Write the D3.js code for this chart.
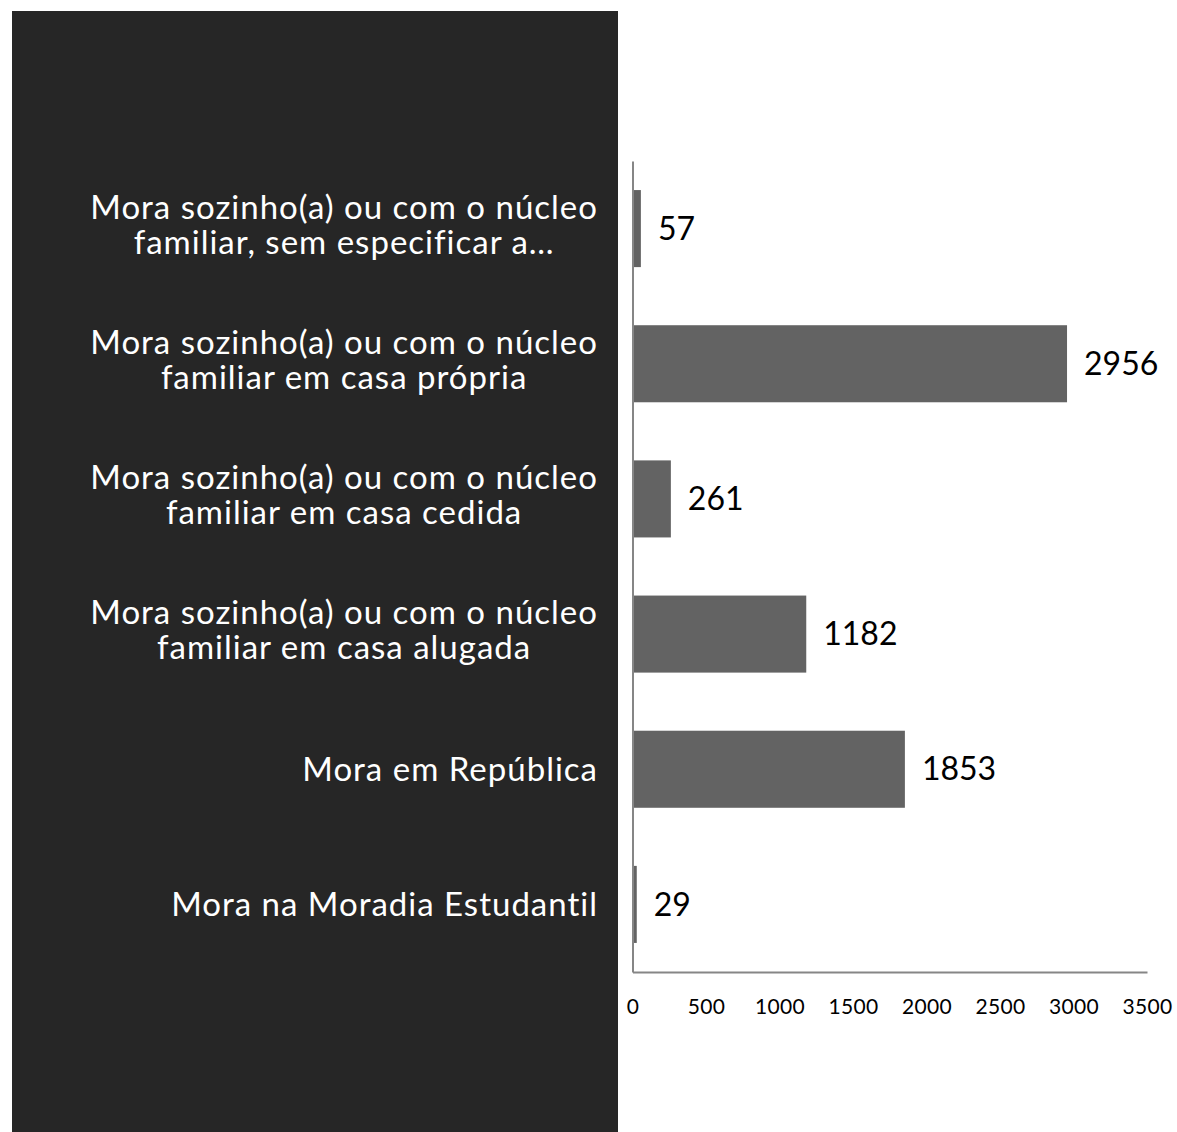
<!DOCTYPE html>
<html>
<head>
<meta charset="utf-8">
<script src="https://cdn.jsdelivr.net/npm/d3@7"></script>
<style>
  html, body { margin: 0; padding: 0; background: #ffffff; }
  svg { display: block; }
</style>
</head>
<body>
<svg id="chart" width="1177" height="1132"></svg>
<script>
const categories = [
  "Mora sozinho(a) ou com o núcleo familiar, sem especificar a…",
  "Mora sozinho(a) ou com o núcleo familiar em casa própria",
  "Mora sozinho(a) ou com o núcleo familiar em casa cedida",
  "Mora sozinho(a) ou com o núcleo familiar em casa alugada",
  "Mora em República",
  "Mora na Moradia Estudantil"
];
const values = [57, 2956, 261, 1182, 1853, 29];
const tickValues = [0, 500, 1000, 1500, 2000, 2500, 3000, 3500];

const FONT = "Lato, 'Open Sans', sans-serif";
const svg = d3.select("#chart");

// dark label panel
svg.append("rect")
  .attr("x", 12).attr("y", 11)
  .attr("width", 606).attr("height", 1121)
  .attr("fill", "#262626");

const x = d3.scaleLinear().domain([0, 3500]).range([632.5, 1147]);
const y = d3.scaleBand().domain(categories).range([161, 972])
  .paddingInner(0.43).paddingOuter(0.215);

// bars
svg.append("g").selectAll("rect")
  .data(categories)
  .join("rect")
  .attr("x", x(0))
  .attr("y", d => y(d))
  .attr("width", (d, i) => x(values[i]) - x(0))
  .attr("height", y.bandwidth())
  .attr("fill", "#636363");

// x axis
const xAxis = d3.axisBottom(x).tickValues(tickValues).tickSize(0).tickPadding(0)
  .tickFormat(d3.format("d"));
const gx = svg.append("g").attr("transform", "translate(0,972)").call(xAxis);
gx.select(".domain").attr("stroke", "#868686").attr("stroke-width", 2);
gx.selectAll("text")
  .attr("y", 35)
  .attr("dy", "0.35em")
  .attr("fill", "#000")
  .style("font-family", FONT)
  .style("font-size", "21px")
  .style("letter-spacing", "0.3px");

// y axis line
const yAxis = d3.axisLeft(y).tickSize(0).tickFormat("");
const gy = svg.append("g").attr("transform", "translate(632.5,0)").call(yAxis);
gy.select(".domain").attr("stroke", "#868686").attr("stroke-width", 2);

// value labels
svg.append("g").selectAll("text")
  .data(categories)
  .join("text")
  .attr("x", (d, i) => x(values[i]) + 17)
  .attr("y", d => y(d) + y.bandwidth() / 2)
  .attr("dy", "0.35em")
  .attr("fill", "#000")
  .style("font-family", FONT)
  .style("font-size", "32px")
  .text((d, i) => values[i]);

// category labels with wrapping, right-aligned block, centered lines
const labelRight = 598, wrapWidth = 520, lineH = 35;
const gl = svg.append("g");
categories.forEach(cat => {
  const cy = y(cat) + y.bandwidth() / 2;
  const t = gl.append("text")
    .attr("fill", "#ffffff")
    .style("font-family", FONT)
    .style("font-size", "33px")
    .style("letter-spacing", "1px");
  const words = cat.split(" ");
  const lines = [];
  let cur = [];
  const probe = t.append("tspan");
  words.forEach(w => {
    const test = cur.concat([w]).join(" ");
    probe.text(test);
    if (probe.node().getComputedTextLength() > wrapWidth && cur.length) {
      lines.push(cur.join(" "));
      cur = [w];
    } else {
      cur.push(w);
    }
  });
  if (cur.length) lines.push(cur.join(" "));
  let maxW = 0;
  lines.forEach(l => { probe.text(l); maxW = Math.max(maxW, probe.node().getComputedTextLength()); });
  probe.remove();
  const cx = labelRight - maxW / 2;
  const n = lines.length;
  const shift = n > 1 ? -4 : 0;
  lines.forEach((l, i) => {
    t.append("tspan")
      .attr("x", cx)
      .attr("y", cy + (i - (n - 1) / 2) * lineH + shift)
      .attr("dy", "0.35em")
      .attr("text-anchor", "middle")
      .text(l);
  });
});
</script>
</body>
</html>
